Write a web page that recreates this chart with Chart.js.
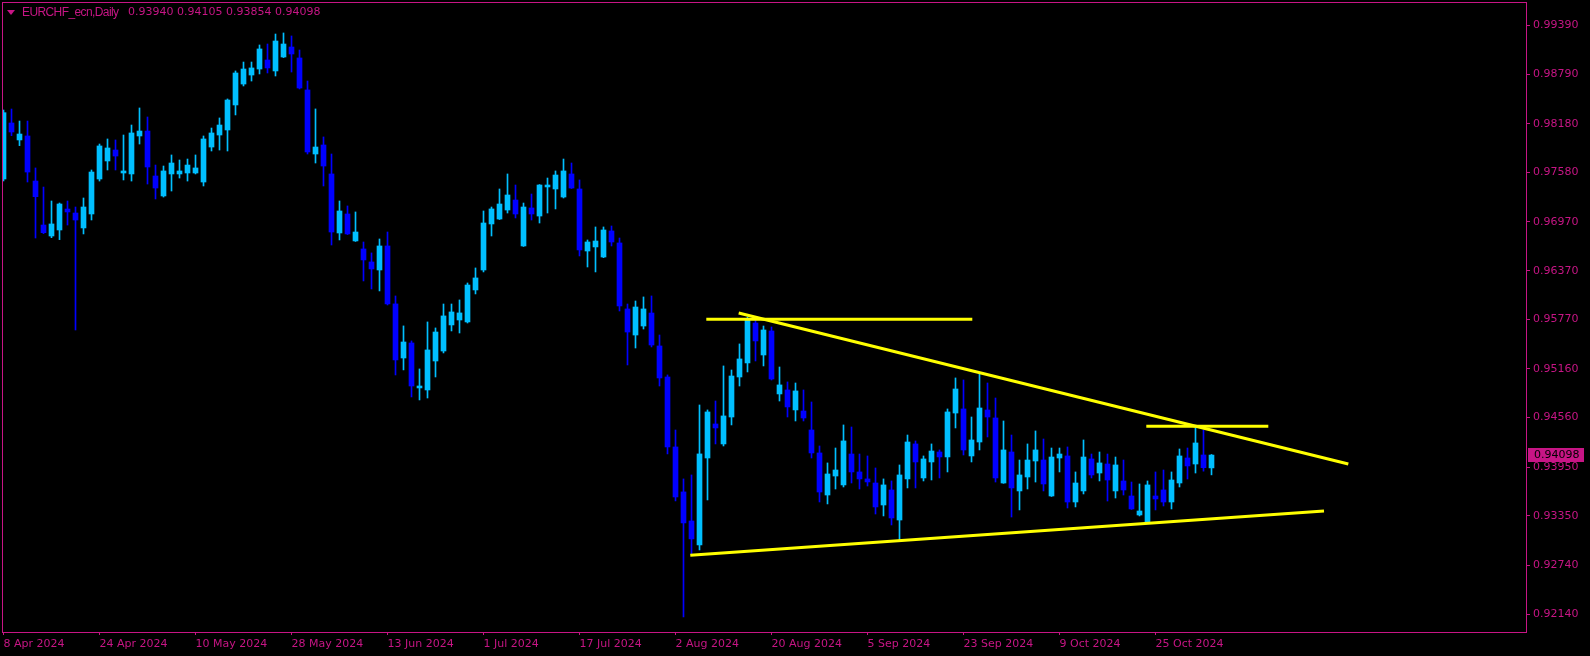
<!DOCTYPE html>
<html>
<head>
<meta charset="utf-8">
<script src="https://cdn.jsdelivr.net/npm/chart.js@4.4.1/dist/chart.umd.min.js"></script>
<style>
    html, body { margin: 0; padding: 0; background: #000; }
    #wrap { position: relative; width: 1590px; height: 656px; overflow: hidden; }
    #title { position: absolute; left: 0; top: 0; height: 20px; color: #C71585; white-space: pre; }
    #title .tri { position: absolute; left: 7px; top: 10px; width: 0; height: 0;
        border-left: 4px solid transparent; border-right: 4px solid transparent; border-top: 5px solid #C71585; }
    #title .name { position: absolute; left: 22px; top: 5px; font: 12px "Liberation Sans", Arial, sans-serif; letter-spacing: -0.6px; }
    #title .ohlc { position: absolute; left: 128px; top: 5px; font: 11px "DejaVu Sans", sans-serif; }
</style>
</head>
<body>
<div id="wrap">
    <canvas id="chart" width="1590" height="656"></canvas>
    <div id="title"><span class="tri"></span><span class="name">EURCHF_ecn,Daily</span><span class="ohlc" id="ohlc"></span></div>
</div>
<script>
// ── Daily candles, 8 Apr 2024 onwards (bar index = position) ──
const opens = [
    0.97499, 0.98189, 0.97980, 0.98029, 0.97474, 0.96932, 0.96797, 0.96871, 0.97129, 0.97080,
    0.96896, 0.97068, 0.97499, 0.97721, 0.97856, 0.97573, 0.97561, 0.98029, 0.98090, 0.97536,
    0.97290, 0.97561, 0.97561, 0.97573, 0.97573, 0.97462, 0.97893, 0.98041, 0.98103, 0.98411,
    0.98669, 0.98780, 0.98854, 0.98965, 0.98830, 0.99002, 0.99125, 0.98990, 0.98596, 0.97807,
    0.97918, 0.97561, 0.96834, 0.97068, 0.96736, 0.96637, 0.96477, 0.96378, 0.96674, 0.95960,
    0.95294, 0.95479, 0.94925, 0.94900, 0.95257, 0.95380, 0.95701, 0.95762, 0.95738, 0.96132,
    0.96378, 0.96945, 0.97006, 0.97117, 0.97240, 0.96674, 0.97142, 0.97043, 0.97401, 0.97376,
    0.97277, 0.97561, 0.97376, 0.96612, 0.96662, 0.96538, 0.96859, 0.96711, 0.95898, 0.95577,
    0.95688, 0.95848, 0.95442, 0.95060, 0.94198, 0.93644, 0.93286, 0.92991, 0.94062, 0.94481,
    0.94235, 0.94567, 0.95060, 0.95233, 0.95725, 0.95331, 0.95627, 0.94851, 0.94900, 0.94654,
    0.94641, 0.94407, 0.94124, 0.93606, 0.93840, 0.93730, 0.94111, 0.93890, 0.93804, 0.93754,
    0.93483, 0.93668, 0.93298, 0.93804, 0.94235, 0.93816, 0.94013, 0.94136, 0.94075, 0.94616,
    0.94666, 0.94087, 0.94259, 0.94653, 0.94555, 0.93754, 0.94136, 0.93656, 0.93828, 0.94025,
    0.94037, 0.93594, 0.94062, 0.94087, 0.93520, 0.93656, 0.94050, 0.93877, 0.93988, 0.93656,
    0.93779, 0.93594, 0.93360, 0.93274, 0.93594, 0.93668, 0.93520, 0.93754, 0.94062, 0.93988,
    0.94099, 0.93940
];
const highs = [
    0.98349, 0.98361, 0.98213, 0.98213, 0.97635, 0.97400, 0.97228, 0.97203, 0.97228, 0.97154,
    0.97265, 0.97610, 0.97930, 0.97992, 0.97980, 0.98041, 0.98164, 0.98374, 0.98263, 0.97671,
    0.97659, 0.97795, 0.97733, 0.97745, 0.97795, 0.98029, 0.98127, 0.98251, 0.98485, 0.98830,
    0.98940, 0.98940, 0.99150, 0.99162, 0.99285, 0.99298, 0.99261, 0.99088, 0.98706, 0.98362,
    0.98017, 0.97807, 0.97228, 0.97167, 0.97093, 0.96723, 0.96588, 0.96760, 0.96846, 0.96058,
    0.95689, 0.95504, 0.95159, 0.95738, 0.95664, 0.95959, 0.95959, 0.96009, 0.96218, 0.96403,
    0.97105, 0.97154, 0.97376, 0.97561, 0.97425, 0.97203, 0.97314, 0.97430, 0.97511, 0.97598,
    0.97745, 0.97696, 0.97487, 0.96748, 0.96908, 0.96908, 0.96920, 0.96772, 0.95959, 0.95996,
    0.96046, 0.96058, 0.95577, 0.95085, 0.94407, 0.93804, 0.93853, 0.94715, 0.94654, 0.94764,
    0.95196, 0.95146, 0.95467, 0.95799, 0.95762, 0.95688, 0.95676, 0.95183, 0.94999, 0.94986,
    0.94900, 0.94752, 0.94210, 0.94001, 0.94185, 0.94469, 0.94444, 0.94111, 0.94087, 0.93939,
    0.93804, 0.93779, 0.93976, 0.94345, 0.94272, 0.94087, 0.94235, 0.94161, 0.94666, 0.95048,
    0.95023, 0.94567, 0.95097, 0.94986, 0.94801, 0.94518, 0.94345, 0.94037, 0.94235, 0.94395,
    0.94296, 0.94185, 0.94185, 0.94198, 0.93890, 0.94284, 0.94111, 0.94136, 0.94111, 0.94074,
    0.94037, 0.93766, 0.93742, 0.93779, 0.93890, 0.93914, 0.93890, 0.94173, 0.94185, 0.94432,
    0.94407, 0.94105
];
const lows = [
    0.97475, 0.98033, 0.97910, 0.97462, 0.96772, 0.96826, 0.96776, 0.96752, 0.96932, 0.95639,
    0.96822, 0.96994, 0.97474, 0.97610, 0.97610, 0.97487, 0.97474, 0.97930, 0.97437, 0.97253,
    0.97277, 0.97351, 0.97511, 0.97474, 0.97561, 0.97413, 0.97844, 0.97856, 0.97844, 0.98288,
    0.98645, 0.98706, 0.98793, 0.98805, 0.98768, 0.98995, 0.98817, 0.98608, 0.97807, 0.97696,
    0.97413, 0.96686, 0.96748, 0.96815, 0.96730, 0.96243, 0.96144, 0.96120, 0.95947, 0.95085,
    0.95147, 0.94814, 0.94777, 0.94801, 0.95060, 0.95356, 0.95627, 0.95602, 0.95725, 0.96083,
    0.96354, 0.96797, 0.97000, 0.97080, 0.97019, 0.96668, 0.96994, 0.96957, 0.97080, 0.97130,
    0.97265, 0.97382, 0.96551, 0.96415, 0.96354, 0.96530, 0.96674, 0.95873, 0.95208, 0.95417,
    0.95651, 0.95430, 0.94949, 0.94112, 0.93533, 0.92104, 0.92868, 0.92929, 0.93545, 0.94235,
    0.94210, 0.94469, 0.94949, 0.95122, 0.95257, 0.95196, 0.95023, 0.94764, 0.94567, 0.94518,
    0.94518, 0.94062, 0.93520, 0.93496, 0.93680, 0.93705, 0.93754, 0.93680, 0.93717, 0.93372,
    0.93348, 0.93237, 0.93052, 0.93693, 0.93693, 0.93779, 0.93791, 0.93816, 0.93890, 0.94432,
    0.94099, 0.94013, 0.94161, 0.94321, 0.93766, 0.93750, 0.93335, 0.93422, 0.93680, 0.93766,
    0.93656, 0.93588, 0.93890, 0.93446, 0.93459, 0.93619, 0.93816, 0.93779, 0.93532, 0.93569,
    0.93606, 0.93428, 0.93348, 0.93268, 0.93422, 0.93471, 0.93434, 0.93705, 0.93803, 0.93877,
    0.93900, 0.93854
];
const closes = [
    0.98316, 0.98078, 0.98053, 0.97585, 0.97281, 0.96838, 0.96945, 0.97191, 0.97093, 0.96994,
    0.97154, 0.97585, 0.97906, 0.97881, 0.97782, 0.97598, 0.98066, 0.98090, 0.97647, 0.97388,
    0.97598, 0.97696, 0.97598, 0.97671, 0.97635, 0.97992, 0.98066, 0.98164, 0.98472, 0.98805,
    0.98854, 0.98867, 0.99101, 0.98867, 0.99199, 0.99162, 0.99039, 0.98620, 0.97832, 0.97893,
    0.97659, 0.96846, 0.97105, 0.96822, 0.96846, 0.96502, 0.96391, 0.96674, 0.95960, 0.95270,
    0.95491, 0.94949, 0.94949, 0.95393, 0.95614, 0.95812, 0.95861, 0.95849, 0.96193, 0.96280,
    0.96957, 0.97130, 0.97191, 0.97302, 0.97068, 0.97154, 0.97068, 0.97425, 0.97425, 0.97548,
    0.97598, 0.97388, 0.96625, 0.96723, 0.96735, 0.96871, 0.96723, 0.95935, 0.95614, 0.95922,
    0.95898, 0.95454, 0.95048, 0.94198, 0.93582, 0.93262, 0.93065, 0.94112, 0.94629, 0.94432,
    0.94580, 0.95072, 0.95282, 0.95775, 0.95504, 0.95639, 0.95035, 0.94962, 0.94691, 0.94888,
    0.94555, 0.94124, 0.93643, 0.93865, 0.93914, 0.94272, 0.93890, 0.93804, 0.93767, 0.93459,
    0.93730, 0.93323, 0.93853, 0.94259, 0.94013, 0.94050, 0.94148, 0.94075, 0.94629, 0.94912,
    0.94161, 0.94284, 0.94678, 0.94567, 0.93816, 0.94161, 0.93693, 0.93853, 0.94037, 0.94161,
    0.93742, 0.94074, 0.94111, 0.93520, 0.93754, 0.94074, 0.93853, 0.94001, 0.93791, 0.93976,
    0.93668, 0.93434, 0.93409, 0.93730, 0.93557, 0.93520, 0.93791, 0.94087, 0.93964, 0.94247,
    0.93943, 0.94098
];

// ── Axis labels ──
const dateLabels = ["8 Apr 2024", "24 Apr 2024", "10 May 2024", "28 May 2024", "13 Jun 2024",
    "1 Jul 2024", "17 Jul 2024", "2 Aug 2024", "20 Aug 2024", "5 Sep 2024", "23 Sep 2024",
    "9 Oct 2024", "25 Oct 2024"];
const dateBars = [0, 12, 24, 36, 48, 60, 72, 84, 96, 108, 120, 132, 144];
const priceLabels = ["0.99390", "0.98790", "0.98180", "0.97580", "0.96970", "0.96370", "0.95770",
    "0.95160", "0.94560", "0.93950", "0.93350", "0.92740", "0.92140"];

// ── Drawn trendlines: [bar index, price] end points ──
const topLevelLine = [[87.85, 0.95770], [121.1, 0.95770]];
const fallingLine  = [[91.9, 0.95848], [168.1, 0.93988]];
const risingLine   = [[85.85, 0.92863], [165.06, 0.93409]];
const breakLevelLine = [[142.85, 0.94453], [158.1, 0.94453]];

const PINK = "#C71585";
const BULL = "#00BFFF";
const BEAR = "#0000FF";
const YELLOW = "#FFFF00";
const FONT = { family: "'DejaVu Sans', sans-serif", size: 11 };

const last = closes.length - 1;
document.getElementById("ohlc").textContent =
    [opens[last], highs[last], lows[last], closes[last]].map(v => v.toFixed(5)).join(" ");

const colors = closes.map((c, i) => c >= opens[i] ? BULL : BEAR);
const wicks  = closes.map((c, i) => ({ x: i, y: [lows[i], highs[i]] }));
const bodies = closes.map((c, i) => ({ x: i, y: [opens[i], c] }));

function trend(points) {
    return {
        type: "line",
        data: points.map(p => ({ x: p[0], y: p[1] })),
        borderColor: YELLOW,
        borderWidth: 3,
        pointRadius: 0,
        borderCapStyle: "butt",
        order: 1
    };
}

// frame around the plot and the last-price tag on the right axis
const framePlugin = {
    id: "frame",
    afterDraw(chart) {
        const { ctx, chartArea: a, scales } = chart;
        ctx.save();
        ctx.strokeStyle = PINK;
        ctx.lineWidth = 1;
        ctx.strokeRect(a.left + 0.5, a.top + 0.5, a.right - a.left - 1, a.bottom - a.top);

        const y = scales.y.getPixelForValue(closes[last]);
        ctx.fillStyle = PINK;
        ctx.fillRect(a.right + 1, Math.round(y) - 7, 56, 14);
        ctx.fillStyle = "#000";
        ctx.font = "11px 'DejaVu Sans', sans-serif";
        ctx.textBaseline = "middle";
        ctx.fillText(closes[last].toFixed(5), a.right + 7, Math.round(y));
        ctx.restore();
    }
};

new Chart(document.getElementById("chart"), {
    type: "bar",
    data: {
        datasets: [
            trend(topLevelLine),
            trend(fallingLine),
            trend(risingLine),
            trend(breakLevelLine),
            {
                data: bodies,
                backgroundColor: colors,
                barThickness: 5,
                minBarLength: 1,
                grouped: false,
                order: 2
            },
            {
                data: wicks,
                backgroundColor: colors,
                barThickness: 1,
                grouped: false,
                order: 3
            }
        ]
    },
    options: {
        responsive: false,
        animation: false,
        devicePixelRatio: 1,
        layout: { padding: { left: 2, top: 2, right: 0, bottom: 0 } },
        plugins: { legend: { display: false }, tooltip: { enabled: false } },
        scales: {
            x: {
                type: "linear",
                min: -0.1875,
                max: 190.4375,
                offset: false,
                grid: { offset: false, drawOnChartArea: false, tickLength: 3, color: PINK },
                border: { display: false },
                ticks: {
                    color: PINK, font: FONT, align: "start", padding: 3,
                    maxRotation: 0, minRotation: 0, autoSkip: false,
                    callback: v => dateLabels[dateBars.indexOf(v)] ?? ""
                },
                afterBuildTicks: s => { s.ticks = dateBars.map(v => ({ value: v })); },
                afterFit: s => { s.height = 24; s.paddingLeft = 0; s.paddingRight = 0; }
            },
            y: {
                type: "linear",
                position: "right",
                min: 0.919183,
                max: 0.996795,
                beginAtZero: false,
                grid: { drawOnChartArea: false, tickLength: 3, color: PINK },
                border: { display: false },
                ticks: {
                    color: PINK, font: FONT, padding: 3, autoSkip: false,
                    callback: v => v.toFixed(5)
                },
                afterBuildTicks: s => { s.ticks = priceLabels.map(t => ({ value: parseFloat(t) })); },
                afterFit: s => { s.width = 63; s.paddingTop = 0; s.paddingBottom = 0; }
            }
        }
    },
    plugins: [framePlugin]
});
</script>
</body>
</html>
